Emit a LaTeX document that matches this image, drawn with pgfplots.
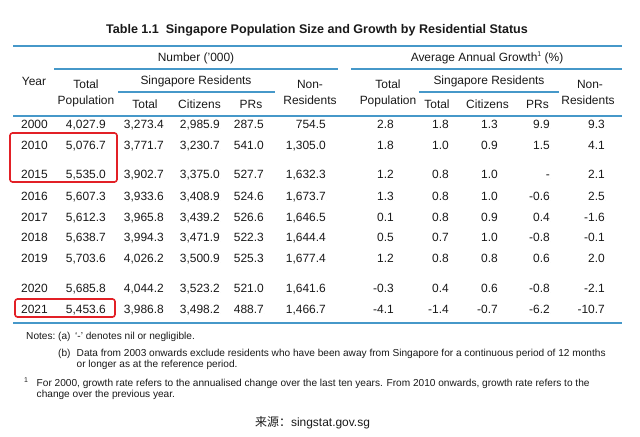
\documentclass[border=0pt]{standalone}
\usepackage{fontspec}
\setmainfont{Liberation Sans}
\newfontfamily\cjk{Noto Sans CJK SC}
\usepackage{pgfplots}
\usepackage{pgfplotstable}
\pgfplotsset{compat=1.18}
\definecolor{tblue}{RGB}{70,152,201}
\definecolor{tred}{RGB}{226,32,38}
\definecolor{ttext}{RGB}{25,25,25}
\newcommand\fs[1]{\fontsize{#1}{#1}\selectfont}

% y = baseline of each row (pixels from top)
\pgfplotstableread{
year y tot res cit prs non gtot gres gcit gprs gnon
2000 128.3 4,027.9 3,273.4 2,985.9 287.5 754.5 2.8 1.8 1.3 9.9 9.3
2010 149.8 5,076.7 3,771.7 3,230.7 541.0 1,305.0 1.8 1.0 0.9 1.5 4.1
2015 178.3 5,535.0 3,902.7 3,375.0 527.7 1,632.3 1.2 0.8 1.0 - 2.1
2016 200.3 5,607.3 3,933.6 3,408.9 524.6 1,673.7 1.3 0.8 1.0 -0.6 2.5
2017 221.3 5,612.3 3,965.8 3,439.2 526.6 1,646.5 0.1 0.8 0.9 0.4 -1.6
2018 241.8 5,638.7 3,994.3 3,471.9 522.3 1,644.4 0.5 0.7 1.0 -0.8 -0.1
2019 262.3 5,703.6 4,026.2 3,500.9 525.3 1,677.4 1.2 0.8 0.8 0.6 2.0
2020 292.3 5,685.8 4,044.2 3,523.2 521.0 1,641.6 -0.3 0.4 0.6 -0.8 -2.1
2021 313.3 5,453.6 3,986.8 3,498.2 488.7 1,466.7 -4.1 -1.4 -0.7 -6.2 -10.7
}\poptable

\begin{document}
\begin{tikzpicture}
\begin{axis}[
  width=640bp, height=436bp, scale only axis,
  xmin=0, xmax=640, ymin=0, ymax=436, y dir=reverse,
  hide axis, clip=false,
  cell/.style={only marks, mark=*, mark size=0pt, mark options={draw=none,fill=none},
    nodes near coords, point meta=explicit symbolic,
    every node near coord/.style={anchor=base east, inner sep=0pt, font=\fs{12}, text=ttext}},
  rule/.style={tblue, line width=1.7bp, mark=none},
  box/.style={tred, line width=1.6bp, mark=none, rounded corners=2.5bp},
]
% rules
\addplot[rule] coordinates {(13,45.7) (622,45.7)};
\addplot[rule] coordinates {(54,69) (338,69)};
\addplot[rule] coordinates {(351,69) (622,69)};
\addplot[rule] coordinates {(118,92) (275,92)};
\addplot[rule] coordinates {(419,92) (559,92)};
\addplot[rule] coordinates {(13,116) (622,116)};
\addplot[rule] coordinates {(13,323) (622,323)};
% red highlight boxes
\addplot[box] coordinates {(60,133) (117,133) (117,182) (10,182) (10,133) (60,133)};
\addplot[box] coordinates {(60,299) (115,299) (115,317) (15,317) (15,299) (60,299)};

% data cells
\addplot[cell, every node near coord/.append style={anchor=base west}] table[x expr=21, y=y, meta=year] {\poptable};
\addplot[cell] table[x expr=106, y=y, meta=tot] {\poptable};
\addplot[cell] table[x expr=164, y=y, meta=res] {\poptable};
\addplot[cell] table[x expr=220, y=y, meta=cit] {\poptable};
\addplot[cell] table[x expr=264, y=y, meta=prs] {\poptable};
\addplot[cell] table[x expr=326, y=y, meta=non] {\poptable};
\addplot[cell] table[x expr=394, y=y, meta=gtot] {\poptable};
\addplot[cell] table[x expr=449, y=y, meta=gres] {\poptable};
\addplot[cell] table[x expr=498, y=y, meta=gcit] {\poptable};
\addplot[cell] table[x expr=550, y=y, meta=gprs] {\poptable};
\addplot[cell] table[x expr=605, y=y, meta=gnon] {\poptable};

% title
\node[anchor=base, font=\fs{12.6}\bfseries, text=ttext] at (axis cs:317,33.5) {Table 1.1\hspace{0.55em}Singapore Population Size and Growth by Residential Status};
% headers
\begin{scope}[every node/.style={anchor=base, inner sep=0pt, font=\fs{12}, text=ttext}]
\node at (axis cs:196,61.3) {Number ({'}000)};
\node at (axis cs:487,61.3) {Average Annual Growth\raisebox{4.5bp}{\fs{7}1} (\%)};
\node at (axis cs:34,85) {Year};
\node at (axis cs:86,88.3) {Total};
\node at (axis cs:86,104) {Population};
\node at (axis cs:196,84.3) {Singapore Residents};
\node at (axis cs:145,108) {Total};
\node at (axis cs:199.5,108) {Citizens};
\node at (axis cs:251,108) {PRs};
\node at (axis cs:310,88.3) {Non-};
\node at (axis cs:310,104) {Residents};
\node at (axis cs:388,88.3) {Total};
\node at (axis cs:388,104) {Population};
\node at (axis cs:489,84.3) {Singapore Residents};
\node at (axis cs:437,108) {Total};
\node at (axis cs:487.5,108) {Citizens};
\node at (axis cs:537.5,108) {PRs};
\node at (axis cs:590,88.3) {Non-};
\node at (axis cs:588,104) {Residents};
\end{scope}
% notes
\begin{scope}[every node/.style={anchor=base west, inner sep=0pt, font=\fs{10.15}, text=ttext}]
\node at (axis cs:26,339) {Notes:};
\node at (axis cs:58,339) {(a)};
\node at (axis cs:75,339) {`-' denotes nil or negligible.};
\node at (axis cs:58,356.6) {(b)};
\node at (axis cs:76.5,356.6) {Data from 2003 onwards exclude residents who have been away from Singapore for a continuous period of 12 months};
\node at (axis cs:76.5,367.8) {or longer as at the reference period.};
\node[font=\fs{7}] at (axis cs:24,382) {1};
\node at (axis cs:36.5,386.6) {For 2000, growth rate refers to the annualised change over the last ten years. From 2010 onwards, growth rate refers to the};
\node at (axis cs:36.5,397.8) {change over the previous year.};
\end{scope}
\node[anchor=base west, inner sep=0pt, font=\fs{12}, text=ttext] at (axis cs:255,426.3) {{\cjk 来源：}singstat.gov.sg};
\end{axis}
\pgfresetboundingbox
\path[use as bounding box] (current axis.south west) rectangle (current axis.north east);
\end{tikzpicture}
\end{document}
